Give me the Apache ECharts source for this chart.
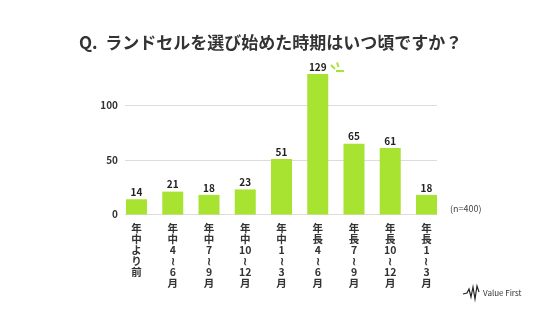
<!DOCTYPE html>
<html>
<head>
<meta charset="utf-8">
<script src="https://cdn.jsdelivr.net/npm/echarts@6/dist/echarts.min.js"></script>
<style>
  html, body { margin: 0; padding: 0; background: #fff; }
  #chart { width: 540px; height: 320px; }
</style>
</head>
<body>
<div id="chart"></div>
<script>
    var titleText = 'Q.  ランドセルを選び始めた時期はいつ頃ですか？';
    var categories = ['年中より前', '年中4〜6月', '年中7〜9月', '年中10〜12月', '年中1〜3月',
                      '年長4〜6月', '年長7〜9月', '年長10〜12月', '年長1〜3月'];
    var counts = [14, 21, 18, 23, 51, 129, 65, 61, 18];
    var yTicks = [0, 50, 100];
    var sampleNote = '(n=400)';

    var FONT = '"Noto Sans CJK JP", "Noto Sans", sans-serif';
    var GREEN = '#a8e332';
    var TEXT = '#333';

    // stack a label vertically, digits stay together, wave dash turned upright
    function toVertical(s) {
        var parts = s.match(/[0-9]+|./g);
        return parts.map(function (p) { return p === '〜' ? '≀' : p; }).join('\n');
    }

    var gridTop = 51, gridBottom = 105.5;

    var chart = echarts.init(document.getElementById('chart'));
    chart.setOption({
        animation: false,
        title: {
            text: titleText,
            left: 74,
            top: 29,
            textStyle: { fontFamily: FONT, fontSize: 17, fontWeight: 'bold', color: TEXT }
        },
        grid: [
            // gridlines and y labels
            { left: 125, right: 103, top: gridTop, bottom: gridBottom },
            // bars
            { left: 118.4, right: 95.4, top: gridTop, bottom: gridBottom }
        ],
        xAxis: [
            { gridIndex: 0, type: 'value', show: false, min: 0, max: 1 },
            {
                gridIndex: 1,
                type: 'category',
                data: categories.map(toVertical),
                axisLine: { show: false },
                axisTick: { show: false },
                axisLabel: {
                    interval: 0,
                    margin: 8,
                    fontFamily: FONT,
                    fontSize: 10.5,
                    fontWeight: 'bold',
                    lineHeight: 11,
                    color: TEXT
                }
            }
        ],
        yAxis: [
            {
                gridIndex: 0,
                type: 'value',
                min: 0,
                max: 150,
                interval: yTicks[1] - yTicks[0],
                axisLine: { show: false },
                axisTick: { show: false },
                axisLabel: {
                    margin: 7,
                    showMaxLabel: false,
                    fontFamily: FONT,
                    fontSize: 10,
                    fontWeight: 'bold',
                    color: TEXT
                },
                splitLine: { show: true, showMaxLine: false, lineStyle: { color: '#dcdcdc', width: 1 } }
            },
            {
                gridIndex: 1,
                type: 'value',
                min: 0,
                max: 150,
                show: false,
                splitLine: { show: false }
            }
        ],
        series: [{
            type: 'bar',
            xAxisIndex: 1,
            yAxisIndex: 1,
            data: counts,
            barWidth: 21,
            itemStyle: { color: GREEN },
            label: {
                show: true,
                position: 'top',
                distance: 2,
                fontFamily: FONT,
                fontSize: 10,
                fontWeight: 'bold',
                color: '#222'
            }
        }],
        graphic: [
            {
                type: 'text',
                left: 450,
                top: 204,
                style: { text: sampleNote, font: '9px ' + FONT, fill: '#444' }
            },
            // little sparkle next to the tallest bar
            { type: 'line', shape: { x1: 331, y1: 65, x2: 335, y2: 69 }, style: { stroke: GREEN, lineWidth: 2 } },
            { type: 'line', shape: { x1: 337, y1: 62.5, x2: 338.5, y2: 67 }, style: { stroke: GREEN, lineWidth: 2 } },
            { type: 'line', shape: { x1: 336, y1: 71, x2: 344, y2: 71 }, style: { stroke: GREEN, lineWidth: 2 } },
            // logo
            {
                type: 'polyline',
                shape: { points: [[463, 294], [467, 293], [469, 289], [471, 297], [473, 287], [475, 299], [477, 286], [479, 292]] },
                style: { stroke: '#222', lineWidth: 1.2, fill: null }
            },
            {
                type: 'text',
                left: 483,
                top: 289,
                style: { text: 'Value First', font: '8px ' + FONT, fill: '#333' }
            }
        ]
    });
</script>
</body>
</html>
